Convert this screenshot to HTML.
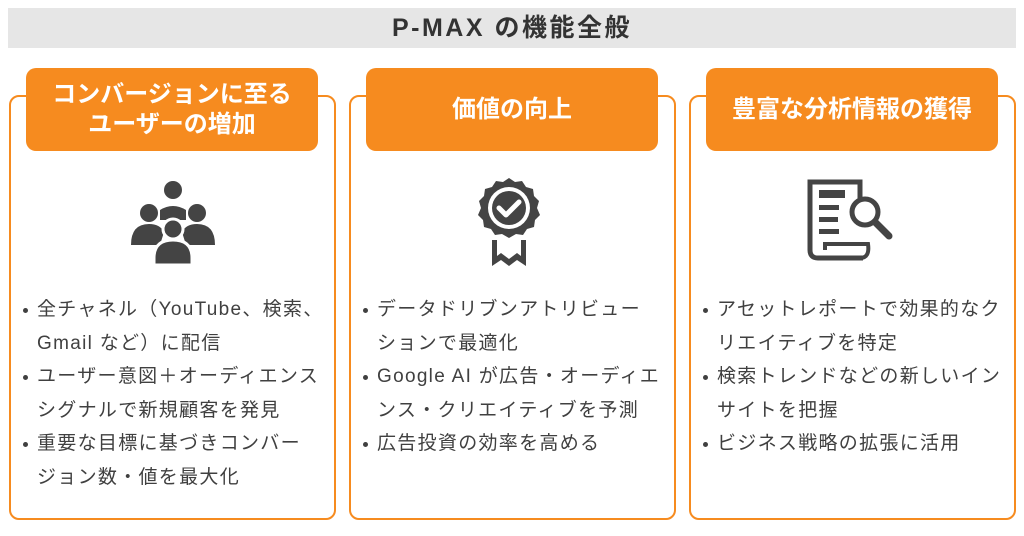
<!DOCTYPE html>
<html><head><meta charset="utf-8"><style>
*{margin:0;padding:0;box-sizing:border-box}
body{width:1024px;height:536px;background:#fff;position:relative;font-family:"Liberation Sans","Noto Sans CJK JP",sans-serif;overflow:hidden}
.title{position:absolute;left:8px;top:8px;width:1008px;height:40px;background:#e6e6e6;color:#333;font-weight:bold;font-size:25px;text-align:center;line-height:40px;letter-spacing:2.5px}
.panel{position:absolute;top:95px;width:327px;height:425px;border:2px solid #f68b1f;border-radius:10px}
.head{position:absolute;top:68px;width:292px;height:83px;background:#f68b1f;border-radius:10px;color:#fff;font-weight:bold;font-size:24px;text-align:center;display:flex;align-items:center;justify-content:center;line-height:30px}
.list{position:absolute;top:293px;font-size:19px;color:#404040;line-height:33.5px;letter-spacing:1.3px}
.list div{position:relative;padding-left:28px;white-space:nowrap}
.list .b::before{content:"";position:absolute;left:14px;top:15px;width:5px;height:5px;border-radius:50%;background:#404040}
svg{position:absolute}
</style></head><body>
<div class="title">P-MAX の機能全般</div>

<div class="panel" style="left:9px"></div>
<div class="panel" style="left:349px"></div>
<div class="panel" style="left:689px"></div>
<div class="head" style="left:26px">コンバージョンに至る<br>ユーザーの増加</div>
<div class="head" style="left:366px">価値の向上</div>
<div class="head" style="left:706px">豊富な分析情報の獲得</div>

<svg style="left:130px;top:180px" width="86" height="85" viewBox="0 0 86 85" fill="#444">
<circle cx="43" cy="10" r="9"/>
<circle cx="19" cy="33" r="9"/><circle cx="67" cy="33" r="9"/>
<path d="M30 30 Q43 22 56 30 L56 40 L30 40Z"/>
<path d="M1 65 Q1 44 19 44 Q30 44 34 52 L30 65Z"/>
<path d="M85 65 Q85 44 67 44 Q56 44 52 52 L56 65Z"/>
<circle cx="43" cy="49" r="10" stroke="#fff" stroke-width="3"/>
<path d="M24 85 L24 78 Q24 60 43 60 Q62 60 62 78 L62 85Z" stroke="#fff" stroke-width="3"/>
</svg>

<svg style="left:474px;top:176px" width="70" height="92" viewBox="0 0 70 92">
<path d="M35 2 L41 6 L48 5 L52 11 L59 13 L60 20 L65 25 L63 32 L66 39 L61 44 L60 51 L53 53 L49 59 L42 58 L35 62 L28 58 L21 59 L17 53 L10 51 L9 44 L4 39 L7 32 L5 25 L10 20 L11 13 L18 11 L22 5 L29 6Z" fill="#444"/>
<circle cx="35" cy="32" r="21" fill="#fff"/>
<circle cx="35" cy="32" r="17" fill="#444"/>
<path d="M25 32 L32 39 L45 26" stroke="#fff" stroke-width="5" fill="none" stroke-linecap="round" stroke-linejoin="round"/>
<path d="M18 64 L18 90 L27 84 L35 90 L43 84 L52 90 L52 64 L47 64 L47 80 L43 77 L35 83 L27 77 L23 80 L23 64Z" fill="#444"/>
</svg>

<svg style="left:805px;top:178px" width="95" height="85" viewBox="0 0 95 85">
<path d="M20 4 L5 4 L5 72 Q5 80 13 80 L58 80" stroke="#444" stroke-width="5" fill="none"/>
<path d="M8 4 L55 4 L55 22" stroke="#444" stroke-width="5" fill="none"/>
<path d="M20 72 L20 66 L63 66 Q65 80 55 80 L20 80" stroke="#444" stroke-width="4" fill="none"/>
<rect x="14" y="12" width="26" height="8" fill="#444"/>
<rect x="14" y="27" width="20" height="5" fill="#444"/>
<rect x="14" y="39" width="19" height="5" fill="#444"/>
<rect x="14" y="51" width="20" height="5" fill="#444"/>
<circle cx="60" cy="34" r="13" stroke="#444" stroke-width="5" fill="#fff"/>
<path d="M70 44 L84 58" stroke="#444" stroke-width="7" stroke-linecap="round"/>
</svg>

<div class="list" style="left:9px">
<div class="b">全チャネル（YouTube、検索、</div>
<div>Gmail など）に配信</div>
<div class="b">ユーザー意図＋オーディエンス</div>
<div>シグナルで新規顧客を発見</div>
<div class="b">重要な目標に基づきコンバー</div>
<div>ジョン数・値を最大化</div>
</div>
<div class="list" style="left:349px">
<div class="b">データドリブンアトリビュー</div>
<div>ションで最適化</div>
<div class="b">Google AI が広告・オーディエ</div>
<div>ンス・クリエイティブを予測</div>
<div class="b">広告投資の効率を高める</div>
</div>
<div class="list" style="left:689px">
<div class="b">アセットレポートで効果的なク</div>
<div>リエイティブを特定</div>
<div class="b">検索トレンドなどの新しいイン</div>
<div>サイトを把握</div>
<div class="b">ビジネス戦略の拡張に活用</div>
</div>
</body></html>
